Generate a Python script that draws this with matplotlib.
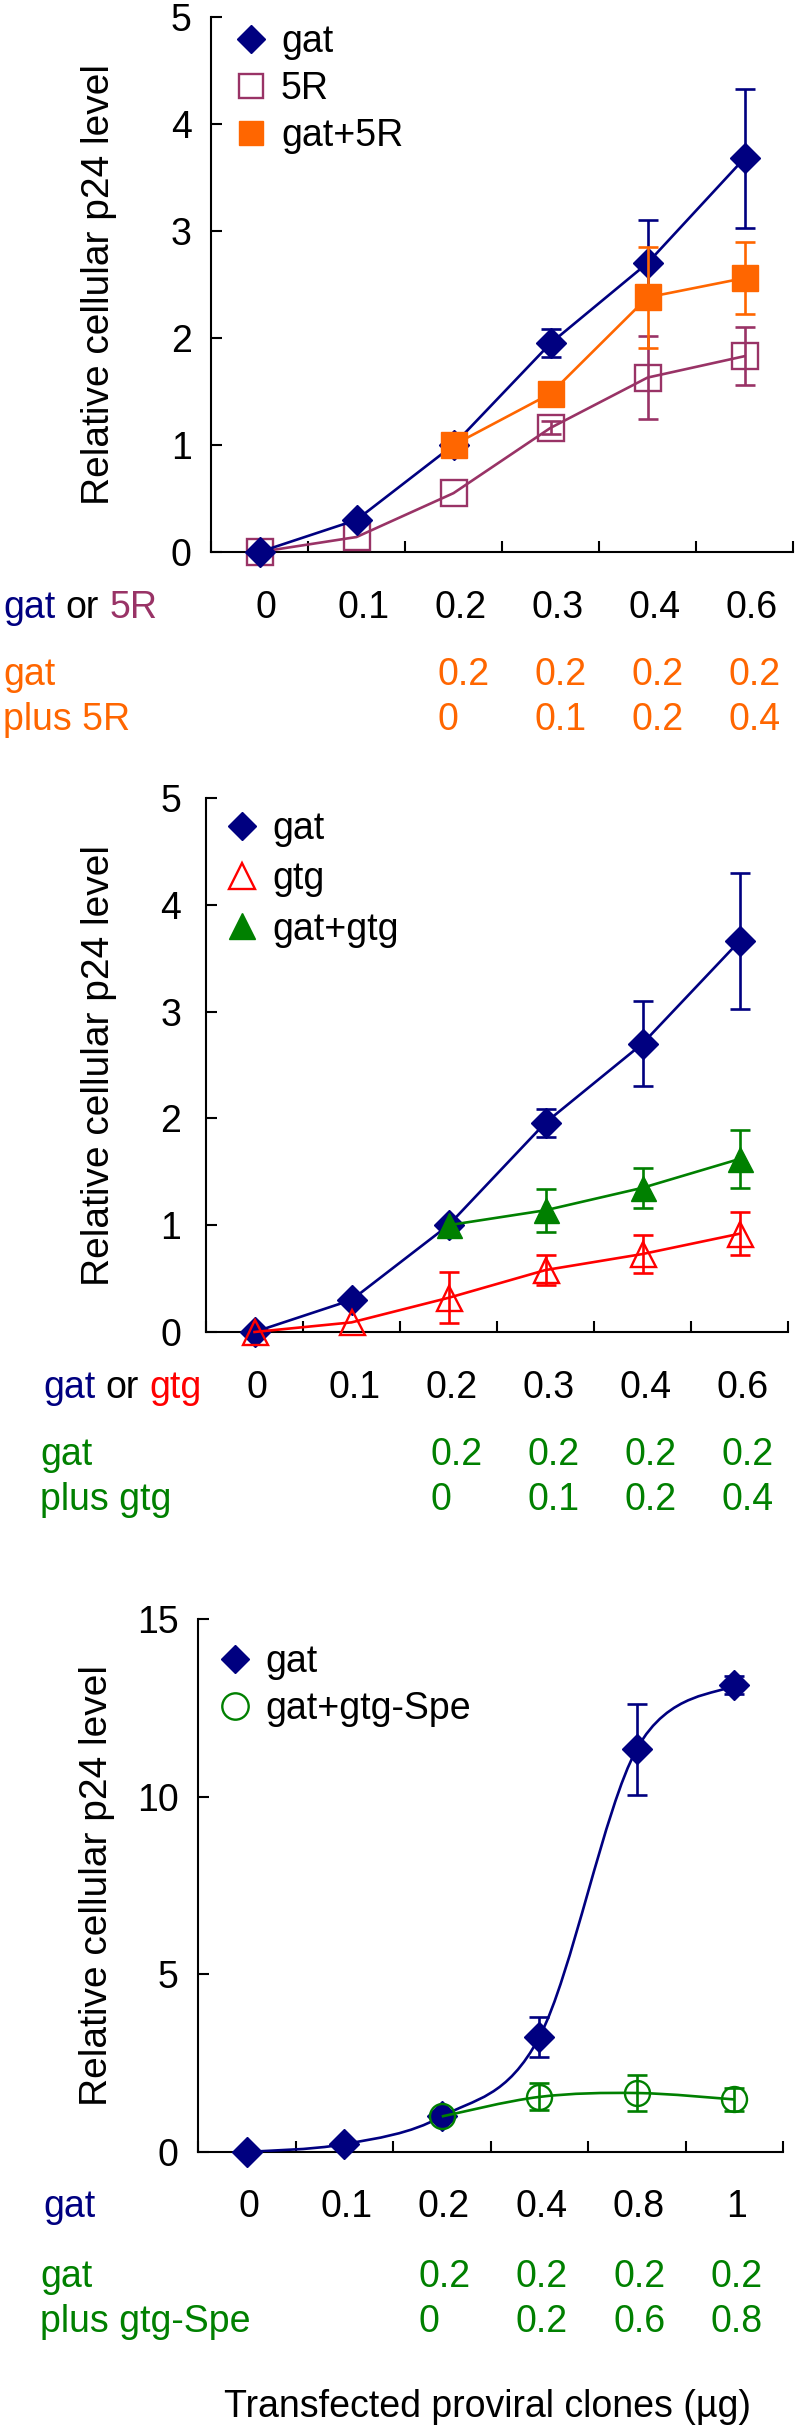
import numpy as np
import matplotlib
matplotlib.use('Agg')
import matplotlib.pyplot as plt
from matplotlib.lines import Line2D
from matplotlib.path import Path
from matplotlib.patches import PathPatch
from matplotlib.text import Annotation
from matplotlib.ticker import FormatStrFormatter
from matplotlib.transforms import blended_transform_factory

plt.rcParams['font.family'] = ['Liberation Sans', 'DejaVu Sans']

# ---------------- data ----------------
# Panel A: gat / 5R
cat_a = ['0', '0.1', '0.2', '0.3', '0.4', '0.6']
gat_a = [0.0, 0.30, 1.00, 1.95, 2.70, 3.68]
gat_a_err = [0, 0, 0, 0.13, 0.40, 0.65]
r5_a = [0.0, 0.14, 0.55, 1.16, 1.63, 1.83]
r5_a_err = [0, 0, 0, 0.06, 0.39, 0.27]
mix_a_idx = [2, 3, 4, 5]
mix_a = [1.00, 1.48, 2.38, 2.56]
mix_a_err = [0, 0, 0.47, 0.34]
mix_a_gat = ['0.2', '0.2', '0.2', '0.2']
mix_a_plus = ['0', '0.1', '0.2', '0.4']

# Panel B: gat / gtg
cat_b = ['0', '0.1', '0.2', '0.3', '0.4', '0.6']
gat_b = [0.0, 0.30, 1.00, 1.96, 2.70, 3.66]
gat_b_err = [0, 0, 0, 0.13, 0.40, 0.64]
gtg_b = [0.0, 0.09, 0.32, 0.58, 0.73, 0.92]
gtg_b_err = [0, 0, 0.24, 0.14, 0.18, 0.20]
mix_b_idx = [2, 3, 4, 5]
mix_b = [1.00, 1.14, 1.35, 1.62]
mix_b_err = [0, 0.20, 0.19, 0.27]
mix_b_gat = ['0.2', '0.2', '0.2', '0.2']
mix_b_plus = ['0', '0.1', '0.2', '0.4']

# Panel C: gat / gat+gtg-Spe
cat_c = ['0', '0.1', '0.2', '0.4', '0.8', '1']
gat_c = [0.0, 0.22, 1.00, 3.23, 11.34, 13.15]
gat_c_err = [0, 0, 0, 0.57, 1.28, 0.25]
spe_c_idx = [2, 3, 4, 5]
spe_c = [1.00, 1.55, 1.66, 1.48]
spe_c_err = [0, 0.38, 0.52, 0.33]
spe_c_gat = ['0.2', '0.2', '0.2', '0.2']
spe_c_plus = ['0', '0.2', '0.6', '0.8']

# ---------------- style ----------------
NAVY = '#000080'
PLUM = '#993366'
ORANGE = '#FF6600'
RED = '#FF0000'
GREEN = '#008000'
FS = 27
LW = 1.9
CAP = 7.5
W, H = 800, 2426

fig = plt.figure(figsize=(W / 100, H / 100), dpi=100)


def axes_px(left, right, top, bottom):
    return fig.add_axes([left / W, 1 - bottom / H, (right - left) / W, (bottom - top) / H])


def smooth_path(x, y):
    """Excel-like smoothed line (Catmull-Rom style Bezier through the data points)."""
    pts = list(zip(x, y))
    n = len(pts)
    verts = [pts[0]]
    codes = [Path.MOVETO]
    for i in range(n - 1):
        p0 = pts[i - 1] if i > 0 else pts[i]
        p1 = pts[i]
        p2 = pts[i + 1]
        p3 = pts[i + 2] if i + 2 < n else pts[i + 1]
        c1 = (p1[0] + (p2[0] - p0[0]) / 6, p1[1] + (p2[1] - p0[1]) / 6)
        c2 = (p2[0] - (p3[0] - p1[0]) / 6, p2[1] - (p3[1] - p1[1]) / 6)
        verts += [c1, c2, p2]
        codes += [Path.CURVE4] * 3
    return Path(verts, codes)


def series(ax, idx, vals, errs, color, marker, ms, filled, z, smooth=False):
    x = np.asarray(idx, float)
    y = np.asarray(vals, float)
    e = np.asarray(errs, float)
    if smooth:
        ax.add_patch(PathPatch(smooth_path(x, y), fc='none', ec=color, lw=LW, zorder=z))
    else:
        ax.plot(x, y, '-', color=color, lw=LW, zorder=z, clip_on=False)
    m = e > 0
    if m.any():
        ax.errorbar(x[m], y[m], yerr=e[m], fmt='none', ecolor=color, elinewidth=LW,
                    capsize=CAP, capthick=LW, zorder=z, clip_on=False)
    ax.plot(x, y, ls='none', marker=marker, ms=ms,
            mfc=color if filled else 'none', mec=color,
            mew=1.0 if filled else 1.7, zorder=z + 0.1, clip_on=False)


def style_axes(ax, ymax, ystep, pad, ylab_x):
    ax.set_xlim(-0.5, 5.5)
    ax.set_ylim(0, ymax)
    ax.set_xticks(np.arange(-0.5, 6, 1.0))
    ax.set_yticks(np.arange(0, ymax + 0.01, ystep))
    ax.yaxis.set_major_formatter(FormatStrFormatter('%d'))
    ax.tick_params(axis='x', direction='in', length=8, width=1.5, labelbottom=False)
    ax.tick_params(axis='y', direction='in', length=8, width=1.5, labelsize=FS, pad=pad)
    for s in ['top', 'right']:
        ax.spines[s].set_visible(False)
    for s in ['left', 'bottom']:
        ax.spines[s].set_linewidth(1.5)
    ax.set_ylabel('Relative cellular p24 level', fontsize=FS + 1)
    ax.yaxis.set_label_coords(ylab_x, 0.5)
    ax.yaxis.label.set_va('center')


def colored_row(x_px, base_px, parts):
    prev = fig.text(x_px / W, 1 - base_px / H, parts[0][0], color=parts[0][1],
                    fontsize=FS, ha='left', va='baseline')
    for txt, col in parts[1:]:
        prev = fig.add_artist(Annotation(
            txt, xy=(1, 0), xycoords=prev, xytext=(7.5, 0), textcoords='offset points',
            ha='left', va='bottom', color=col, fontsize=FS, annotation_clip=False))


def row_values(ax, idx, base_px, texts, color, ha, dx):
    tr = blended_transform_factory(ax.transData, fig.transFigure)
    for i, t in zip(idx, texts):
        ax.text(i + dx, 1 - base_px / H, t, transform=tr, ha=ha, va='baseline',
                color=color, fontsize=FS, clip_on=False)


def legend(ax, handles, labels, x_px, top_px, spacing):
    ax.legend(handles, labels, loc='upper left', bbox_to_anchor=(x_px / W, 1 - top_px / H),
              bbox_transform=fig.transFigure, frameon=False, fontsize=FS,
              handlelength=0.8, handletextpad=0.4, labelspacing=spacing,
              borderpad=0, borderaxespad=0)


idx6 = list(range(6))

# ---------------- Panel A ----------------
axA = axes_px(211, 793, 17, 552)
style_axes(axA, 5, 1, 14, (99.5 - 211) / 582)
series(axA, idx6, r5_a, r5_a_err, PLUM, 's', 18.5, False, 3)
series(axA, idx6, gat_a, gat_a_err, NAVY, 'D', 15, True, 4)
series(axA, mix_a_idx, mix_a, mix_a_err, ORANGE, 's', 18.5, True, 5)
legend(axA, [Line2D([], [], ls='none', marker='D', ms=14, mfc=NAVY, mec=NAVY),
             Line2D([], [], ls='none', marker='s', ms=17, mfc='none', mec=PLUM, mew=1.7),
             Line2D([], [], ls='none', marker='s', ms=17, mfc=ORANGE, mec=ORANGE)],
       ['gat', '5R', 'gat+5R'], 236, 24, 0.3)
colored_row(3, 618, [('gat', NAVY), ('or', 'black'), ('5R', PLUM)])
row_values(axA, idx6, 618, cat_a, 'black', 'center', 0.07)
fig.text(3 / W, 1 - 685 / H, 'gat', color=ORANGE, fontsize=FS, va='baseline')
fig.text(3 / W, 1 - 730 / H, 'plus 5R', color=ORANGE, fontsize=FS, va='baseline')
row_values(axA, mix_a_idx, 685, mix_a_gat, ORANGE, 'left', -0.17)
row_values(axA, mix_a_idx, 730, mix_a_plus, ORANGE, 'left', -0.17)

# ---------------- Panel B ----------------
axB = axes_px(206, 788, 798, 1332)
style_axes(axB, 5, 1, 18, (99.5 - 206) / 582)
series(axB, idx6, gat_b, gat_b_err, NAVY, 'D', 15, True, 3)
series(axB, idx6, gtg_b, gtg_b_err, RED, '^', 18, False, 4)
series(axB, mix_b_idx, mix_b, mix_b_err, GREEN, '^', 18, True, 5)
legend(axB, [Line2D([], [], ls='none', marker='D', ms=14, mfc=NAVY, mec=NAVY),
             Line2D([], [], ls='none', marker='^', ms=19, mfc='none', mec=RED, mew=1.7),
             Line2D([], [], ls='none', marker='^', ms=19, mfc=GREEN, mec=GREEN)],
       ['gat', 'gtg', 'gat+gtg'], 227, 811, 0.38)
colored_row(43, 1398, [('gat', NAVY), ('or', 'black'), ('gtg', RED)])
row_values(axB, idx6, 1398, cat_b, 'black', 'center', 0.03)
fig.text(40 / W, 1 - 1465 / H, 'gat', color=GREEN, fontsize=FS, va='baseline')
fig.text(40 / W, 1 - 1510 / H, 'plus gtg', color=GREEN, fontsize=FS, va='baseline')
row_values(axB, mix_b_idx, 1465, mix_b_gat, GREEN, 'left', -0.19)
row_values(axB, mix_b_idx, 1510, mix_b_plus, GREEN, 'left', -0.19)

# ---------------- Panel C ----------------
axC = axes_px(198, 783, 1619, 2152)
style_axes(axC, 15, 5, 14, (97 - 198) / 585)
series(axC, idx6, gat_c, gat_c_err, NAVY, 'D', 15, True, 3, smooth=True)
series(axC, spe_c_idx, spe_c, spe_c_err, GREEN, 'o', 18, False, 4, smooth=True)
legend(axC, [Line2D([], [], ls='none', marker='D', ms=14, mfc=NAVY, mec=NAVY),
             Line2D([], [], ls='none', marker='o', ms=19, mfc='none', mec=GREEN, mew=1.7)],
       ['gat', 'gat+gtg-Spe'], 220, 1644, 0.3)
fig.text(43 / W, 1 - 2217 / H, 'gat', color=NAVY, fontsize=FS, va='baseline')
row_values(axC, idx6, 2217, cat_c, 'black', 'center', 0.02)
fig.text(40 / W, 1 - 2287 / H, 'gat', color=GREEN, fontsize=FS, va='baseline')
fig.text(40 / W, 1 - 2332 / H, 'plus gtg-Spe', color=GREEN, fontsize=FS, va='baseline')
row_values(axC, spe_c_idx, 2287, spe_c_gat, GREEN, 'left', -0.24)
row_values(axC, spe_c_idx, 2332, spe_c_plus, GREEN, 'left', -0.24)
fig.text(487 / W, 1 - 2417 / H, 'Transfected proviral clones (\u00b5g)', color='black',
         fontsize=FS, ha='center', va='baseline')

fig.savefig('out.png', dpi=100, facecolor='white')
